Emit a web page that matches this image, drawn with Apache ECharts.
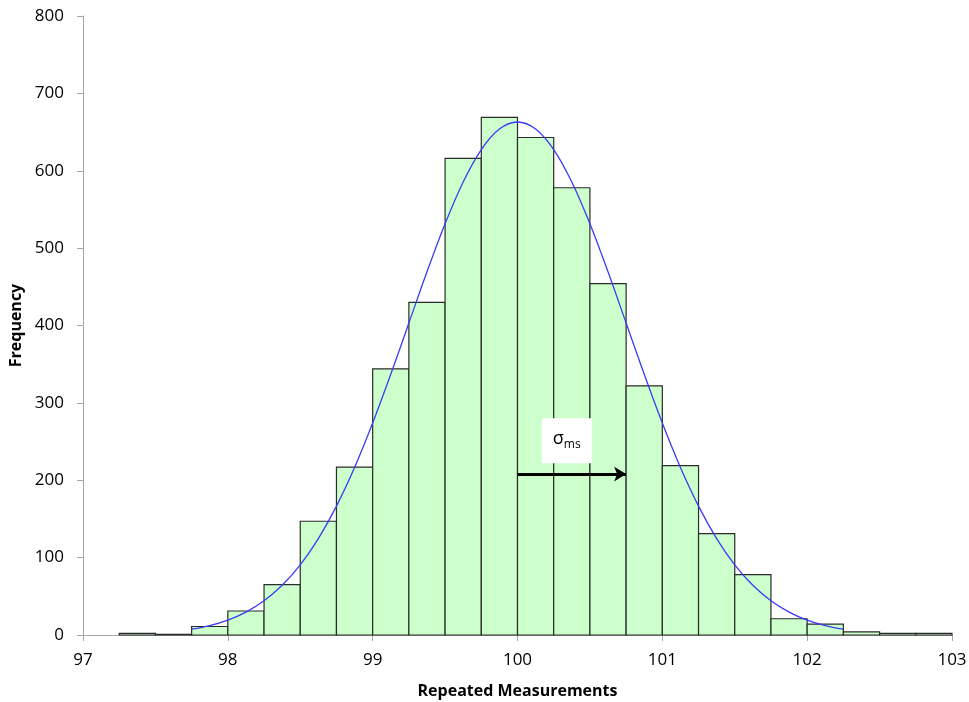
<!DOCTYPE html>
<html>
<head>
<meta charset="utf-8">
<title>Repeated Measurements Histogram</title>
<script src="https://cdn.jsdelivr.net/npm/echarts@6/dist/echarts.min.js"></script>
<style>
  html, body { margin: 0; padding: 0; background: #ffffff; }
  #chart { width: 969px; height: 702px; }
</style>
</head>
<body>
<div id="chart"></div>
<script>
// Histogram bins (left edge of each bin) and their counts
const binStarts = [97.25, 97.5, 97.75, 98, 98.25, 98.5, 98.75, 99, 99.25, 99.5, 99.75, 100,
                   100.25, 100.5, 100.75, 101, 101.25, 101.5, 101.75, 102, 102.25, 102.5, 102.75];
const binCounts = [2, 1, 11, 31, 65, 147, 217, 344, 430, 616, 669, 643,
                   578, 454, 322, 219, 131, 78, 21, 14, 4, 2, 2];
const binWidth = 0.25;

// Fitted normal curve points
const curveX = [97.75, 97.875, 98, 98.125, 98.25, 98.375, 98.5, 98.625, 98.75, 98.875,
                99, 99.125, 99.25, 99.375, 99.5, 99.625, 99.75, 99.875, 100,
                100.125, 100.25, 100.375, 100.5, 100.625, 100.75, 100.875, 101,
                101.125, 101.25, 101.375, 101.5, 101.625, 101.75, 101.875, 102, 102.125, 102.25];
const curveY = [7.5, 12.2, 19.3, 29.6, 44.2, 64.2, 90.7, 124.6, 166.6, 216.5,
                273.9, 336.9, 403.2, 469.4, 531.5, 585.5, 627.4, 653.9, 663,
                653.9, 627.4, 585.5, 531.5, 469.4, 403.2, 336.9, 273.9,
                216.5, 166.6, 124.6, 90.7, 64.2, 44.2, 29.6, 19.3, 12.2, 7.5];

// Axis ticks
const xTicks = [97, 98, 99, 100, 101, 102, 103];
const yTicks = [0, 100, 200, 300, 400, 500, 600, 700, 800];

// Sigma annotation: arrow from the mean one standard deviation to the right
const sigmaArrow = [[100, 208], [100.75, 208]];
const sigmaLabelPos = [100.34, 251];

const FONT = 'Open Sans';
const chart = echarts.init(document.getElementById('chart'), null, { renderer: 'canvas' });

const binData = binStarts.map((s, i) => [s, s + binWidth, binCounts[i]]);
const curveData = curveX.map((x, i) => [x, curveY[i]]);

chart.setOption({
  animation: false,
  backgroundColor: '#ffffff',
  grid: { left: 83, right: 17, top: 16, bottom: 67, outerBoundsMode: 'none', containLabel: false },
  xAxis: {
    type: 'value',
    min: xTicks[0],
    max: xTicks[xTicks.length - 1],
    interval: 1,
    name: 'Repeated Measurements',
    nameLocation: 'middle',
    nameGap: 48,
    nameTextStyle: { fontFamily: FONT, fontSize: 16, fontWeight: 'bold', color: '#000' },
    axisLine: { show: true, lineStyle: { color: '#a6a6a6', width: 1 } },
    axisTick: { show: true, length: 6, lineStyle: { color: '#a6a6a6' } },
    axisLabel: { fontFamily: FONT, fontSize: 17, color: '#000', margin: 17 },
    splitLine: { show: false }
  },
  yAxis: {
    type: 'value',
    min: yTicks[0],
    max: yTicks[yTicks.length - 1],
    interval: 100,
    name: 'Frequency',
    nameLocation: 'middle',
    nameGap: 58,
    nameRotate: 90,
    nameTextStyle: { fontFamily: FONT, fontSize: 16, fontWeight: 'bold', color: '#000' },
    axisLine: { show: true, lineStyle: { color: '#a6a6a6', width: 1 } },
    axisTick: { show: true, length: 6, lineStyle: { color: '#a6a6a6' } },
    axisLabel: { fontFamily: FONT, fontSize: 17, color: '#000', margin: 19 },
    splitLine: { show: false }
  },
  series: [
    {
      type: 'custom',
      name: 'Histogram',
      data: binData,
      encode: { x: [0, 1], y: 2 },
      renderItem: function (params, api) {
        const p0 = api.coord([api.value(0), api.value(2)]);
        const p1 = api.coord([api.value(1), 0]);
        return {
          type: 'rect',
          shape: { x: p0[0], y: p0[1], width: p1[0] - p0[0], height: p1[1] - p0[1] },
          style: { fill: '#ccffcc', stroke: '#2b2b2b', lineWidth: 1.2 }
        };
      },
      z: 2
    },
    {
      type: 'line',
      name: 'Normal',
      data: curveData,
      smooth: 0.35,
      showSymbol: false,
      lineStyle: { color: '#3b3bf5', width: 1.3 },
      z: 3,
      markLine: {
        silent: true,
        symbol: ['none', 'arrow'],
        symbolSize: [11, 12],
        label: { show: false },
        lineStyle: { color: '#000', width: 3, type: 'solid' },
        data: [[{ coord: sigmaArrow[0] }, { coord: sigmaArrow[1] }]]
      },
      markPoint: {
        silent: true,
        symbol: 'rect',
        symbolSize: [50, 45],
        itemStyle: { color: '#ffffff' },
        label: {
          show: true,
          position: 'inside',
          formatter: '{s|σ}{sub|ms}',
          rich: {
            s: { fontFamily: FONT, fontSize: 18, color: '#000', padding: [0, 0, 4, 0] },
            sub: { fontFamily: FONT, fontSize: 12, color: '#000', padding: [8, 0, 0, 0] }
          }
        },
        data: [{ coord: sigmaLabelPos }]
      }
    }
  ]
});
</script>
</body>
</html>
